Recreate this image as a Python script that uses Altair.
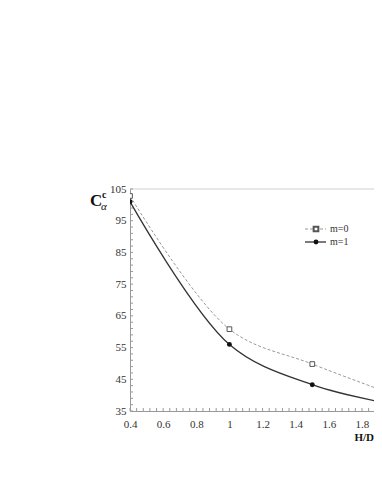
import altair as alt
import pandas as pd

# data
h_d = [0.4, 1.0, 1.5, 2.0]
c_m0 = [102.8, 60.8, 49.8, 40.0]
c_m1 = [101.0, 56.0, 43.3, 37.0]

x_labels = [0.4, 0.6, 0.8, 1.0, 1.2, 1.4, 1.6, 1.8]
y_labels = [35, 45, 55, 65, 75, 85, 95, 105]
x_minor = [0.4, 0.44, 0.48, 0.52, 0.56, 0.6, 0.64, 0.68, 0.72, 0.76, 0.8, 0.84, 0.88,
           0.92, 0.96, 1.0, 1.04, 1.08, 1.12, 1.16, 1.2, 1.24, 1.28, 1.32, 1.36, 1.4,
           1.44, 1.48, 1.52, 1.56, 1.6, 1.64, 1.68, 1.72, 1.76, 1.8, 1.84]
y_minor = [35, 37, 39, 41, 43, 45, 47, 49, 51, 53, 55, 57, 59, 61, 63, 65, 67, 69, 71,
           73, 75, 77, 79, 81, 83, 85, 87, 89, 91, 93, 95, 97, 99, 101, 103, 105]

W, H = 244, 222
FONT = "Liberation Serif"

df0 = pd.DataFrame({"h": h_d, "c": c_m0})
df1 = pd.DataFrame({"h": h_d, "c": c_m1})

xs = alt.Scale(domain=[0.4, 1.8725], nice=False, zero=False)
ys = alt.Scale(domain=[35, 105], nice=False, zero=False)

axis_x = alt.Axis(values=x_labels, format="~g", title=None, grid=False, ticks=False,
                  tickSize=0, labelPadding=7, domainColor="#999", labelFont=FONT,
                  labelFontSize=11, labelColor="#333", labelFlush=False)
axis_y = alt.Axis(values=y_labels, title=None, grid=False, ticks=False, tickSize=0,
                  labelPadding=4, domainColor="#999", labelFont=FONT,
                  labelFontSize=11, labelColor="#333", labelFlush=False)


def X(field):
    return alt.X(field, scale=xs, axis=axis_x)


def Y(field):
    return alt.Y(field, scale=ys, axis=axis_y)


top_rule = alt.Chart(pd.DataFrame({"v": [105]})).mark_rule(color="#d0d0d0", strokeWidth=1).encode(
    y=Y("v:Q"), x=alt.value(0), x2=alt.value(W))

line0 = alt.Chart(df0).mark_line(interpolate="catmull-rom", strokeDash=[3, 2], color="#999",
                                 strokeWidth=1, clip=True).encode(x=X("h:Q"), y=Y("c:Q"))
line1 = alt.Chart(df1).mark_line(interpolate="catmull-rom", color="#333", strokeWidth=1.3,
                                 clip=True).encode(x=X("h:Q"), y=Y("c:Q"))
pts0 = alt.Chart(df0).mark_point(shape="square", filled=False, fill="white", color="#555",
                                 size=22, strokeWidth=1, opacity=1, clip=True).encode(
    x=X("h:Q"), y=Y("c:Q"))
pts1 = alt.Chart(df1).mark_point(shape="circle", filled=True, color="#111", size=24,
                                 opacity=1, clip=True).encode(x=X("h:Q"), y=Y("c:Q"))

ytick = alt.Chart(pd.DataFrame({"v": y_minor})).mark_rule(color="#999").encode(
    y=Y("v:Q"), x=alt.value(0), x2=alt.value(3))
xtick = alt.Chart(pd.DataFrame({"v": x_minor})).mark_rule(color="#999").encode(
    x=X("v:Q"), y=alt.value(H), y2=alt.value(H - 3))

one = pd.DataFrame({"a": [0]})
t_C = alt.Chart(one).mark_text(text="C", font=FONT, fontSize=17, fontWeight="bold",
                               align="left", baseline="alphabetic", color="#111").encode(
    x=alt.value(-40), y=alt.value(17))
t_c = alt.Chart(one).mark_text(text="c", font=FONT, fontSize=10, fontWeight="bold",
                               align="left", baseline="alphabetic", color="#111").encode(
    x=alt.value(-28), y=alt.value(9))
t_a = alt.Chart(one).mark_text(text="α", font=FONT, fontSize=11, fontStyle="italic",
                               align="left", baseline="alphabetic", color="#111").encode(
    x=alt.value(-29), y=alt.value(21))
t_x = alt.Chart(one).mark_text(text="H/D", font=FONT, fontSize=11, fontWeight="bold",
                               align="right", baseline="alphabetic", color="#111").encode(
    x=alt.value(W), y=alt.value(252))

# legend
LX = 175
leg_l0 = alt.Chart(one).mark_rule(color="#999", strokeDash=[3, 2], strokeWidth=1).encode(
    x=alt.value(LX), x2=alt.value(LX + 21), y=alt.value(40))
leg_p0 = alt.Chart(one).mark_point(shape="square", filled=False, fill="white", color="#555",
                                   size=22, opacity=1).encode(x=alt.value(LX + 11), y=alt.value(40))
leg_t0 = alt.Chart(one).mark_text(text="m=0", font=FONT, fontSize=10, align="left",
                                  baseline="middle", color="#333").encode(
    x=alt.value(LX + 25), y=alt.value(40))
leg_l1 = alt.Chart(one).mark_rule(color="#333", strokeWidth=1.3).encode(
    x=alt.value(LX), x2=alt.value(LX + 21), y=alt.value(53))
leg_p1 = alt.Chart(one).mark_point(shape="circle", filled=True, color="#111", size=24,
                                   opacity=1).encode(x=alt.value(LX + 11), y=alt.value(53))
leg_t1 = alt.Chart(one).mark_text(text="m=1", font=FONT, fontSize=10, align="left",
                                  baseline="middle", color="#333").encode(
    x=alt.value(LX + 25), y=alt.value(53))

chart = alt.layer(
    line0, top_rule, ytick, xtick, line1, pts0, pts1, t_C, t_c, t_a, t_x,
    leg_l0, leg_p0, leg_t0, leg_l1, leg_p1, leg_t1
).properties(
    width=W, height=H,
    autosize=alt.AutoSizeParams(type="none"),
    padding={"left": 122, "top": 181, "right": 0, "bottom": 45},
    background="white",
).configure_view(stroke=None)

chart.save("out.html", embed_options={"renderer": "svg", "actions": False})
